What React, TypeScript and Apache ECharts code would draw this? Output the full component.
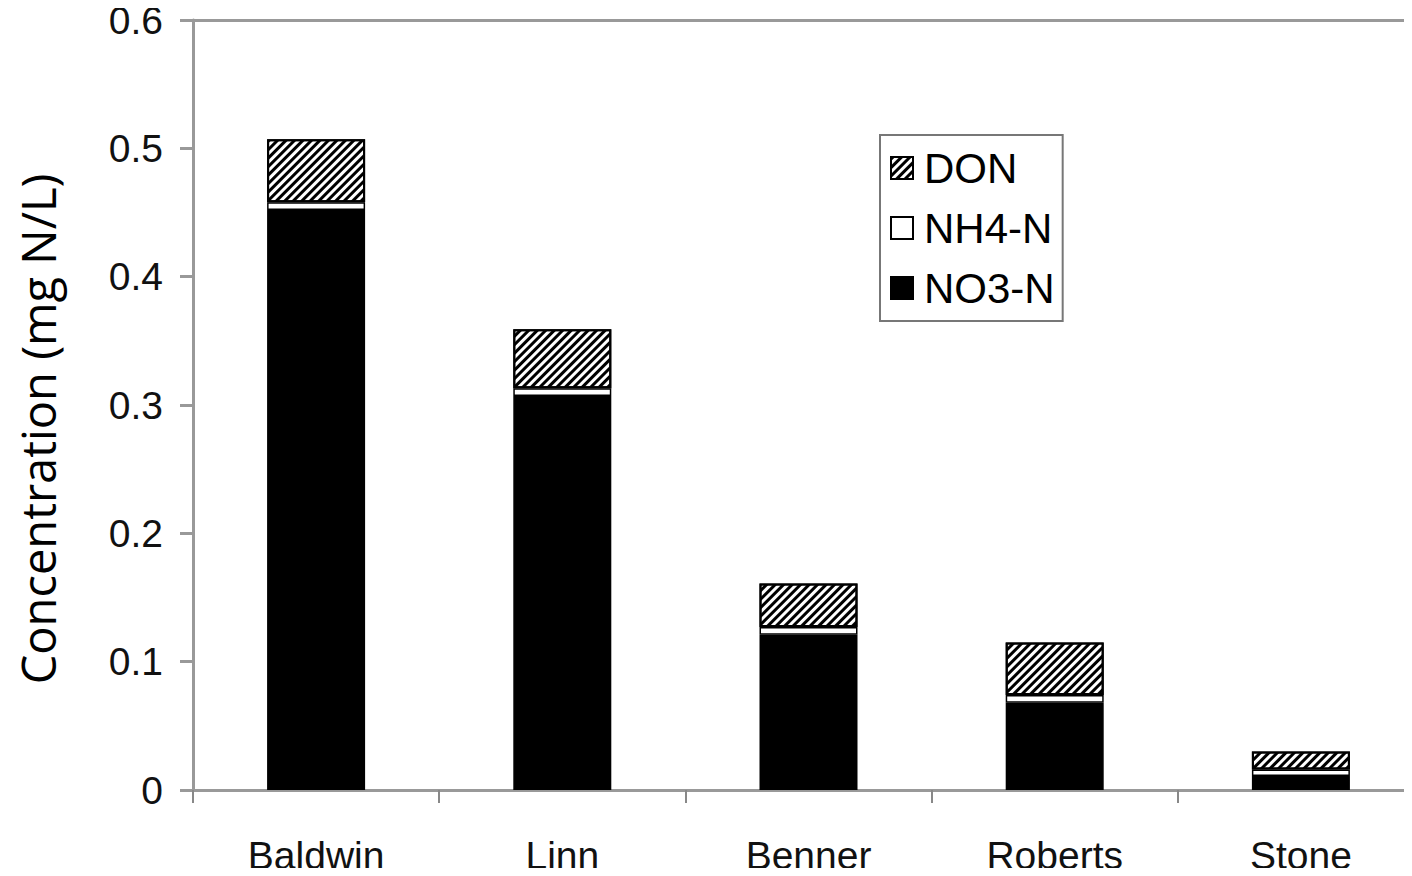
import React, { useEffect, useRef } from "react";
import * as echarts from "echarts";

// Sites along the x axis
const sites = ["Baldwin", "Linn", "Benner", "Roberts", "Stone"];
// Nitrogen fractions (mg N/L), stacked bottom to top
const no3N = [0.452, 0.307, 0.121, 0.068, 0.011];
const nh4N = [0.006, 0.006, 0.006, 0.006, 0.005];
const don = [0.049, 0.046, 0.034, 0.041, 0.014];
// Y axis range and step
const yMin = 0;
const yMax = 0.6;
const yStep = 0.1;

const FONT = "'Liberation Sans', Arial, Helvetica, sans-serif";

export default function App() {
  const ref = useRef<HTMLDivElement>(null);

  useEffect(() => {
    if (!ref.current) return;
    const chart = echarts.init(ref.current, undefined, { renderer: "svg" });
    const barBase = {
      type: "bar" as const,
      stack: "n",
      barWidth: 98,
      emphasis: { disabled: true },
    };
    chart.setOption({
      animation: false,
      backgroundColor: "#ffffff",
      // the plot frame runs past the visible right edge
      grid: { left: 193, top: 20, bottom: 86, width: 1231, containLabel: false },
      legend: {
        orient: "vertical",
        left: 880,
        top: 135,
        data: ["DON", "NH4-N", "NO3-N"],
        itemWidth: 22,
        itemHeight: 22,
        itemGap: 18,
        padding: [12, 8, 12, 10],
        borderColor: "#777",
        borderWidth: 2,
        icon: "rect",
        selectedMode: false,
        textStyle: { fontFamily: FONT, fontSize: 42, color: "#000", lineHeight: 42, padding: [0, 0, 0, 6] },
      },
      xAxis: [
        {
          type: "category",
          data: sites,
          axisLine: { lineStyle: { color: "#999", width: 3 } },
          axisTick: { show: true, length: 13, lineStyle: { color: "#888", width: 2 } },
          axisLabel: { fontFamily: FONT, fontSize: 39, color: "#111", margin: 46 },
        },
        {
          type: "category",
          position: "top",
          data: sites,
          axisLine: { show: true, lineStyle: { color: "#999", width: 3 } },
          axisTick: { show: false },
          axisLabel: { show: false },
        },
      ],
      yAxis: {
        type: "value",
        min: yMin,
        max: yMax,
        interval: yStep,
        axisLine: { show: true, lineStyle: { color: "#999", width: 3 } },
        axisTick: { show: true, length: 13, lineStyle: { color: "#999", width: 3 } },
        splitLine: { show: false },
        axisLabel: {
          fontFamily: FONT,
          fontSize: 39,
          color: "#111",
          margin: 30,
          formatter: (v: number) => String(Math.round(v * 10) / 10),
        },
      },
      graphic: [
        {
          type: "text",
          x: 38,
          y: 429,
          rotation: Math.PI / 2,
          style: {
            text: "Concentration (mg N/L)",
            fontFamily: "'Open Sans', 'Noto Sans', sans-serif",
            fontSize: 47,
            fill: "#000",
            align: "center",
            verticalAlign: "middle",
          },
        },
      ],
      series: [
        {
          ...barBase,
          name: "NO3-N",
          data: no3N,
          itemStyle: { color: "#000", borderColor: "#000", borderWidth: 1.5 },
        },
        {
          ...barBase,
          name: "NH4-N",
          data: nh4N,
          itemStyle: { color: "#fff", borderColor: "#000", borderWidth: 1.5 },
        },
        {
          ...barBase,
          name: "DON",
          data: don,
          itemStyle: {
            color: "#fff",
            borderColor: "#000",
            borderWidth: 2,
            decal: {
              symbol: "rect",
              symbolSize: 1,
              color: "#000",
              dashArrayX: [1, 0],
              dashArrayY: [3, 3],
              rotation: -Math.PI / 4,
            },
          },
        },
      ],
    });
    return () => chart.dispose();
  }, []);

  return (
    <div style={{ width: 1412, height: 876, margin: -8, overflow: "hidden" }}>
      <div ref={ref} style={{ width: 1460, height: 876 }} />
    </div>
  );
}
